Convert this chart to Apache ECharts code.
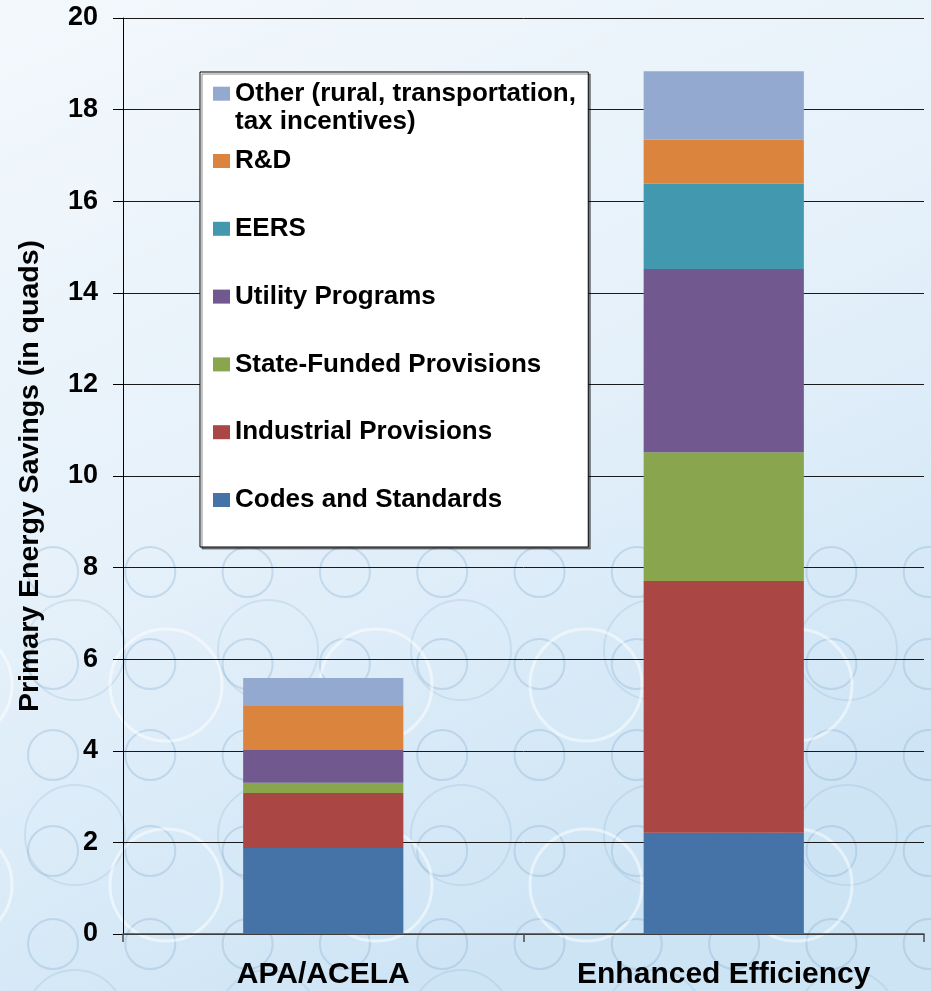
<!DOCTYPE html>
<html>
<head>
<meta charset="utf-8">
<script src="https://cdn.jsdelivr.net/npm/echarts@6/dist/echarts.min.js"></script>
<style>
  html, body { margin: 0; padding: 0; }
  #chart { width: 931px; height: 991px; }
</style>
</head>
<body>
<div id="chart"></div>
<script>
// Primary energy savings by policy component (quads)
const categories = ['APA/ACELA', 'Enhanced Efficiency'];
const codesStandards = [1.88, 2.21];
const industrialProvisions = [1.20, 5.50];
const stateFundedProvisions = [0.22, 2.81];
const utilityPrograms = [0.72, 4.00];
const eers = [0, 1.86];
const researchDevelopment = [0.96, 0.96];
const otherPrograms = [0.61, 1.50];

const seriesNames = [
  'Codes and Standards',
  'Industrial Provisions',
  'State-Funded Provisions',
  'Utility Programs',
  'EERS',
  'R&D',
  'Other (rural, transportation, tax incentives)'
];
const seriesValues = [
  codesStandards, industrialProvisions, stateFundedProvisions,
  utilityPrograms, eers, researchDevelopment, otherPrograms
];
const seriesColors = ['#4572A7', '#AA4643', '#89A54E', '#71588F', '#4198AF', '#DB843D', '#93A9CF'];

const yMin = 0, yMax = 20, yStep = 2;
const FONT = '"Liberation Sans", Arial, Helvetica, sans-serif';

// Decorative ring pattern for the lower part of the backdrop
function ringPattern() {
  const els = [];
  [572, 664, 755, 851, 944].forEach(cy => {
    for (let k = 0; k < 10; k++) {
      els.push({ type: 'circle', z: -10, silent: true,
        shape: { cx: 53 + 97.3 * k, cy: cy, r: 25 },
        style: { fill: null, stroke: 'rgba(130,172,206,0.32)', lineWidth: 2 } });
    }
  });
  [650, 835, 1020].forEach(cy => {
    for (let k = 0; k < 5; k++) {
      els.push({ type: 'circle', z: -10, silent: true,
        shape: { cx: 75 + 193 * k, cy: cy, r: 50 },
        style: { fill: null, stroke: 'rgba(130,172,206,0.22)', lineWidth: 2 } });
    }
  });
  [685, 885].forEach(cy => {
    for (let k = 0; k < 6; k++) {
      els.push({ type: 'circle', z: -9, silent: true,
        shape: { cx: -44 + 210 * k, cy: cy, r: 56 },
        style: { fill: null, stroke: 'rgba(255,255,255,0.5)', lineWidth: 3 } });
    }
  });
  return els;
}

const chart = echarts.init(document.getElementById('chart'), null, { renderer: 'canvas' });

const legendText = {
  fontFamily: FONT, fontSize: 26, fontWeight: 'bold', color: '#000', lineHeight: 28
};

const option = {
  animation: false,
  backgroundColor: {
    type: 'linear', x: 0, y: 0, x2: 0.5, y2: 1,
    colorStops: [
      { offset: 0, color: '#f3f8fc' },
      { offset: 0.5, color: '#e6f1fa' },
      { offset: 1, color: '#cde4f5' }
    ]
  },
  color: seriesColors,
  graphic: { elements: ringPattern() },
  grid: { left: 123, right: 7, top: 18, bottom: 57, containLabel: false },
  legend: [
    {
      // boxed legend: R&D down to Codes and Standards
      data: seriesNames.slice(0, 6).reverse(),
      orient: 'vertical',
      left: 200, top: 72,
      padding: [75, 47, 33, 13],
      itemGap: 39.8,
      itemWidth: 17, itemHeight: 14,
      icon: 'rect',
      selectedMode: false,
      backgroundColor: '#ffffff',
      borderColor: '#000000',
      borderWidth: 1,
      shadowColor: 'rgba(0,0,0,0.45)',
      shadowOffsetX: 2, shadowOffsetY: 2, shadowBlur: 0,
      z: 4,
      textStyle: legendText
    },
    {
      // two-line "Other" entry with its swatch on the first line
      data: [seriesNames[6]],
      orient: 'vertical',
      left: 213, top: 51.7,
      padding: 0,
      itemWidth: 17, itemHeight: 14,
      icon: 'rect',
      selectedMode: false,
      z: 5,
      formatter: () => '\nOther (rural, transportation,\ntax incentives)',
      textStyle: legendText
    }
  ],
  xAxis: {
    type: 'category',
    data: categories,
    boundaryGap: true,
    axisLine: { show: true, lineStyle: { color: '#4a4a4a', width: 1.5 } },
    axisTick: { show: true, length: 8, lineStyle: { color: '#4a4a4a', width: 1.5 } },
    axisLabel: { fontFamily: FONT, fontSize: 30, fontWeight: 'bold', color: '#000', margin: 26 },
    splitLine: { show: false }
  },
  yAxis: {
    type: 'value',
    min: yMin, max: yMax, interval: yStep,
    name: 'Primary Energy Savings (in quads)',
    nameLocation: 'middle',
    nameGap: 78,
    nameTextStyle: { fontFamily: FONT, fontSize: 28.5, fontWeight: 'bold', color: '#000' },
    axisLine: { show: true, lineStyle: { color: '#000', width: 1 } },
    axisTick: { show: true, length: 10, lineStyle: { color: '#000', width: 1 } },
    axisLabel: { fontFamily: FONT, fontSize: 27, fontWeight: 'bold', color: '#000', margin: 25 },
    splitLine: { show: true, lineStyle: { color: '#1a1a1a', width: 1 } }
  },
  series: seriesNames.map((name, i) => ({
    name: name,
    type: 'bar',
    stack: 'savings',
    barWidth: '40%',
    data: seriesValues[i],
    itemStyle: { color: seriesColors[i] },
    emphasis: { disabled: true }
  }))
};

chart.setOption(option);
</script>
</body>
</html>
